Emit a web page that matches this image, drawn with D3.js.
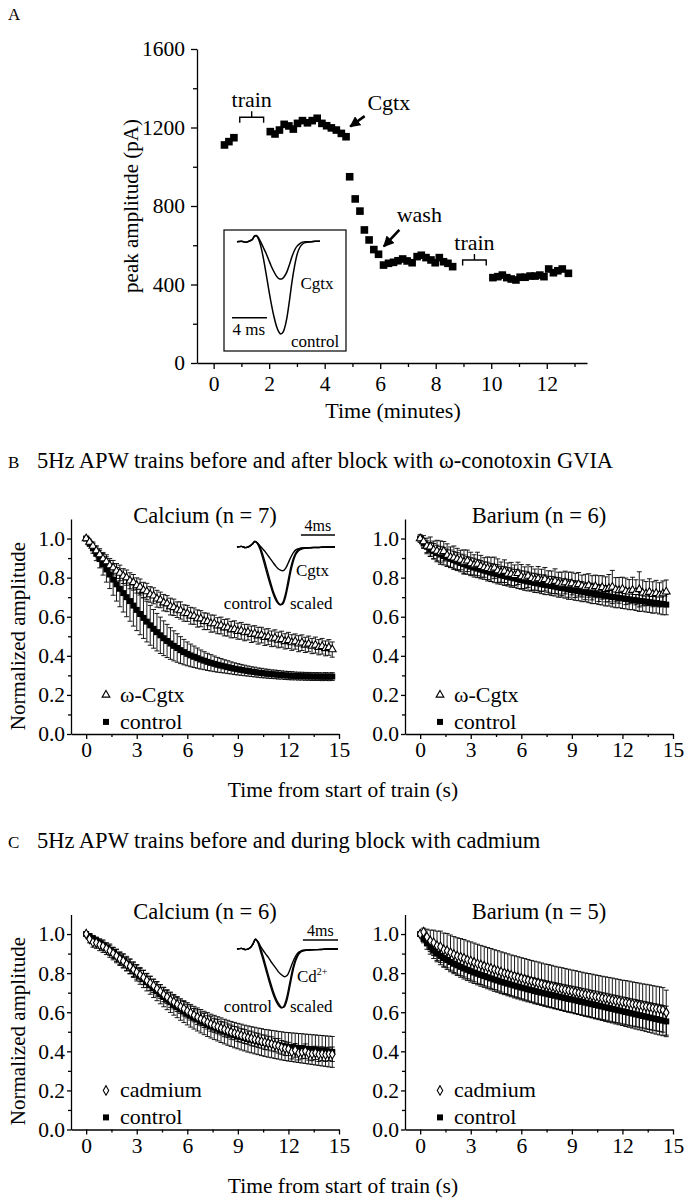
<!DOCTYPE html>
<html><head><meta charset="utf-8">
<script src="https://cdn.jsdelivr.net/npm/d3@7"></script>
<style>
body{margin:0;background:#fff}
svg{display:block}
text{font-family:"Liberation Serif","Times New Roman",serif;fill:#000}
</style></head><body>
<svg id="fig" width="684" height="1200"></svg>
<script>
// ---------- Panel A data ----------
const timeA = [0.39,0.55,0.73,2.04,2.21,2.37,2.54,2.71,2.87,3.02,3.20,3.38,3.55,3.73,3.90,4.07,4.24,4.42,4.60,4.77,4.90,5.10,5.27,5.43,5.60,5.77,5.94,6.12,6.30,6.48,6.64,6.81,6.97,7.15,7.33,7.48,7.65,7.83,7.98,8.13,8.28,8.44,8.61,10.06,10.24,10.40,10.56,10.72,10.89,11.04,11.22,11.40,11.58,11.75,11.90,12.07,12.24,12.40,12.56,12.78];
const ampA = [1111,1128,1148,1179,1167,1187,1216,1208,1192,1221,1235,1224,1235,1247,1221,1209,1198,1187,1170,1153,949,836,774,678,627,578,554,499,508,513,521,530,520,511,542,549,537,525,511,537,516,508,491,435,440,448,435,428,423,437,437,443,443,448,440,479,460,470,479,457];
const ticksAx = [0,2,4,6,8,10,12];
const ticksAy = [0,400,800,1200,1600];

// inset A traces (ms, normalized current)
const traceTimeA = [0,0.5,1,1.5,1.8,2.0,2.2,2.4,2.7,3.0,3.3,3.6,3.9,4.2,4.5,4.8,5.0,5.2,5.4,5.7,6.0,6.3,6.6,6.9,7.2,7.5,7.8,8.1,8.5,9.0,9.5];
const traceCtrlA = [0,0.005,-0.005,0.01,0.03,0.06,0.068,0.04,-0.04,-0.17,-0.33,-0.50,-0.66,-0.80,-0.91,-0.98,-1.0,-0.99,-0.95,-0.83,-0.64,-0.43,-0.26,-0.13,-0.06,-0.025,-0.01,-0.005,0,0.005,0.005];
const traceCgtxA = [0,0.005,-0.005,0.01,0.03,0.06,0.068,0.05,0.0,-0.06,-0.12,-0.19,-0.26,-0.32,-0.37,-0.40,-0.405,-0.40,-0.38,-0.33,-0.25,-0.16,-0.09,-0.045,-0.02,-0.005,0,0,0,0.005,0.005];

// ---------- Panels B / C data (5 Hz train, one value every 0.2 s) ----------
const trainStep = 0.2;
const ticksBCx = [0,3,6,9,12,15];
const ticksBCy = [0,0.2,0.4,0.6,0.8,1.0];

const caCtrlB = [1.000,0.975,0.950,0.922,0.895,0.868,0.842,0.816,0.790,0.766,0.743,0.721,0.700,0.680,0.657,0.635,0.614,0.594,0.575,0.556,0.538,0.521,0.505,0.490,0.476,0.463,0.451,0.440,0.429,0.419,0.410,0.402,0.395,0.388,0.381,0.375,0.369,0.364,0.359,0.354,0.350,0.346,0.342,0.338,0.334,0.331,0.328,0.325,0.322,0.319,0.317,0.314,0.312,0.310,0.308,0.306,0.305,0.303,0.302,0.300,0.299,0.298,0.297,0.296,0.296,0.295,0.295,0.294,0.294,0.294,0.293,0.294,0.293,0.294];
const caCtrlBErr = [0.005,0.015,0.025,0.035,0.045,0.055,0.065,0.072,0.080,0.086,0.092,0.097,0.100,0.103,0.105,0.106,0.106,0.105,0.104,0.102,0.099,0.096,0.093,0.089,0.085,0.081,0.077,0.073,0.069,0.065,0.061,0.058,0.055,0.052,0.049,0.046,0.044,0.042,0.040,0.038,0.036,0.034,0.033,0.031,0.030,0.029,0.028,0.027,0.026,0.025,0.025,0.024,0.024,0.023,0.023,0.022,0.022,0.022,0.021,0.021,0.021,0.021,0.020,0.020,0.020,0.020,0.020,0.020,0.020,0.020,0.020,0.020,0.020,0.020];
const caCgtxB = [1.000,0.982,0.962,0.938,0.918,0.897,0.882,0.862,0.851,0.834,0.824,0.808,0.800,0.784,0.776,0.760,0.752,0.736,0.729,0.714,0.707,0.692,0.686,0.672,0.667,0.652,0.648,0.636,0.632,0.619,0.617,0.605,0.603,0.591,0.590,0.577,0.576,0.565,0.565,0.554,0.555,0.544,0.545,0.534,0.536,0.526,0.528,0.519,0.521,0.510,0.513,0.503,0.506,0.495,0.498,0.487,0.491,0.481,0.485,0.474,0.479,0.468,0.473,0.462,0.467,0.456,0.461,0.450,0.455,0.444,0.449,0.438,0.443,0.432];
const caCgtxBErr = [0.008,0.015,0.020,0.025,0.030,0.032,0.035,0.036,0.037,0.038,0.040,0.038,0.039,0.041,0.040,0.039,0.041,0.040,0.042,0.040,0.041,0.043,0.040,0.042,0.041,0.043,0.042,0.040,0.044,0.042,0.041,0.043,0.042,0.044,0.041,0.043,0.042,0.044,0.043,0.041,0.043,0.042,0.044,0.042,0.043,0.041,0.043,0.042,0.040,0.042,0.041,0.043,0.040,0.042,0.041,0.040,0.042,0.040,0.041,0.039,0.041,0.040,0.039,0.041,0.040,0.039,0.040,0.039,0.041,0.039,0.040,0.038,0.040,0.039];
const baCtrlB = [1.000,0.975,0.958,0.945,0.935,0.926,0.918,0.910,0.903,0.896,0.889,0.882,0.875,0.869,0.862,0.856,0.851,0.846,0.841,0.836,0.831,0.826,0.821,0.817,0.812,0.808,0.804,0.800,0.796,0.792,0.788,0.784,0.780,0.777,0.773,0.770,0.766,0.763,0.760,0.757,0.754,0.750,0.747,0.744,0.740,0.737,0.734,0.731,0.728,0.725,0.722,0.719,0.716,0.713,0.710,0.707,0.704,0.701,0.699,0.696,0.694,0.691,0.689,0.686,0.684,0.681,0.679,0.677,0.674,0.672,0.670,0.667,0.665,0.662];
const baCtrlBErr = [0.010,0.025,0.030,0.035,0.040,0.040,0.042,0.045,0.043,0.045,0.044,0.046,0.045,0.047,0.045,0.046,0.048,0.046,0.047,0.045,0.048,0.046,0.047,0.049,0.046,0.048,0.047,0.049,0.046,0.048,0.047,0.049,0.048,0.046,0.049,0.047,0.048,0.050,0.047,0.049,0.048,0.050,0.047,0.049,0.051,0.048,0.050,0.049,0.051,0.048,0.050,0.052,0.049,0.051,0.050,0.052,0.049,0.051,0.053,0.050,0.052,0.051,0.053,0.050,0.052,0.054,0.051,0.053,0.052,0.054,0.051,0.053,0.055,0.052];
const baCgtxB = [1.000,0.985,0.962,0.958,0.942,0.936,0.928,0.935,0.915,0.905,0.902,0.895,0.890,0.880,0.886,0.872,0.865,0.870,0.858,0.852,0.848,0.842,0.850,0.836,0.828,0.833,0.820,0.818,0.812,0.822,0.805,0.800,0.808,0.796,0.790,0.795,0.786,0.792,0.780,0.776,0.782,0.772,0.768,0.775,0.764,0.770,0.760,0.766,0.757,0.752,0.760,0.748,0.755,0.744,0.750,0.740,0.746,0.752,0.738,0.735,0.742,0.730,0.728,0.736,0.725,0.740,0.722,0.718,0.726,0.715,0.720,0.712,0.718,0.728];
const baCgtxBErr = [0.020,0.030,0.040,0.050,0.045,0.055,0.060,0.050,0.058,0.052,0.060,0.055,0.050,0.062,0.055,0.058,0.052,0.060,0.056,0.050,0.058,0.062,0.055,0.060,0.052,0.058,0.055,0.060,0.053,0.057,0.062,0.055,0.058,0.060,0.054,0.062,0.057,0.060,0.055,0.058,0.063,0.056,0.060,0.058,0.064,0.058,0.062,0.060,0.056,0.065,0.060,0.062,0.058,0.066,0.060,0.064,0.070,0.085,0.062,0.066,0.060,0.068,0.062,0.066,0.064,0.090,0.066,0.062,0.068,0.064,0.066,0.062,0.065,0.060];

const caCtrlC = [1.000,0.990,0.978,0.966,0.954,0.942,0.930,0.917,0.904,0.890,0.877,0.864,0.850,0.834,0.818,0.802,0.786,0.770,0.754,0.738,0.722,0.707,0.692,0.678,0.664,0.651,0.638,0.626,0.614,0.603,0.592,0.582,0.572,0.563,0.554,0.545,0.537,0.529,0.522,0.515,0.508,0.501,0.495,0.489,0.483,0.478,0.473,0.468,0.463,0.459,0.455,0.451,0.447,0.443,0.440,0.437,0.434,0.431,0.428,0.425,0.423,0.421,0.419,0.417,0.415,0.413,0.411,0.409,0.407,0.405,0.403,0.401,0.399,0.397];
const caCtrlCErr = [0.005,0.010,0.015,0.018,0.020,0.022,0.024,0.026,0.028,0.030,0.032,0.034,0.036,0.038,0.040,0.042,0.043,0.044,0.045,0.046,0.047,0.048,0.049,0.050,0.051,0.052,0.053,0.054,0.055,0.056,0.057,0.058,0.058,0.059,0.060,0.060,0.061,0.061,0.062,0.062,0.063,0.063,0.064,0.064,0.065,0.065,0.066,0.066,0.067,0.067,0.068,0.068,0.069,0.069,0.070,0.070,0.071,0.071,0.072,0.072,0.073,0.073,0.074,0.074,0.075,0.075,0.076,0.076,0.077,0.077,0.078,0.078,0.079,0.079];
const caCdC = [1.000,0.975,0.958,0.955,0.945,0.938,0.925,0.915,0.900,0.888,0.872,0.862,0.845,0.835,0.818,0.805,0.790,0.778,0.762,0.748,0.735,0.720,0.706,0.690,0.678,0.662,0.652,0.640,0.628,0.618,0.606,0.596,0.585,0.575,0.566,0.558,0.548,0.540,0.532,0.526,0.518,0.512,0.505,0.498,0.493,0.487,0.481,0.476,0.470,0.466,0.460,0.456,0.450,0.446,0.442,0.438,0.432,0.428,0.420,0.415,0.412,0.398,0.405,0.392,0.396,0.401,0.390,0.388,0.392,0.385,0.388,0.384,0.387,0.385];
const caCdCErr = [0.008,0.020,0.025,0.028,0.030,0.032,0.030,0.034,0.032,0.035,0.033,0.036,0.034,0.037,0.035,0.036,0.034,0.037,0.035,0.036,0.034,0.037,0.035,0.036,0.034,0.037,0.035,0.036,0.034,0.037,0.035,0.036,0.034,0.037,0.035,0.036,0.034,0.037,0.035,0.036,0.034,0.037,0.035,0.036,0.034,0.037,0.035,0.036,0.034,0.037,0.035,0.036,0.034,0.037,0.035,0.036,0.034,0.037,0.035,0.036,0.034,0.037,0.035,0.036,0.034,0.037,0.035,0.036,0.034,0.037,0.035,0.036,0.034,0.037];
const baCtrlC = [1.000,0.975,0.952,0.932,0.915,0.900,0.888,0.877,0.867,0.857,0.848,0.840,0.832,0.824,0.817,0.810,0.803,0.797,0.791,0.785,0.779,0.773,0.767,0.762,0.756,0.751,0.746,0.741,0.736,0.731,0.726,0.722,0.717,0.713,0.708,0.704,0.700,0.696,0.692,0.688,0.684,0.680,0.676,0.672,0.668,0.665,0.661,0.657,0.653,0.649,0.645,0.641,0.637,0.633,0.629,0.625,0.621,0.617,0.613,0.609,0.605,0.601,0.597,0.593,0.589,0.585,0.581,0.577,0.573,0.569,0.565,0.561,0.557,0.553];
const baCtrlCErr = [0.010,0.020,0.030,0.035,0.040,0.042,0.045,0.047,0.048,0.050,0.051,0.052,0.053,0.054,0.055,0.056,0.056,0.057,0.058,0.058,0.059,0.059,0.060,0.060,0.061,0.061,0.062,0.062,0.063,0.063,0.063,0.064,0.064,0.064,0.065,0.065,0.065,0.066,0.066,0.066,0.067,0.067,0.067,0.068,0.068,0.068,0.069,0.069,0.069,0.070,0.070,0.070,0.071,0.071,0.071,0.072,0.072,0.072,0.073,0.073,0.073,0.074,0.074,0.074,0.075,0.075,0.075,0.076,0.076,0.076,0.077,0.077,0.077,0.078];
const baCdC = [1.000,1.010,0.985,0.965,0.955,0.940,0.935,0.920,0.915,0.905,0.895,0.888,0.882,0.876,0.868,0.862,0.855,0.848,0.842,0.836,0.830,0.824,0.818,0.812,0.806,0.800,0.795,0.789,0.784,0.779,0.774,0.769,0.764,0.759,0.754,0.750,0.745,0.740,0.736,0.732,0.727,0.723,0.719,0.715,0.711,0.707,0.703,0.699,0.695,0.691,0.688,0.684,0.680,0.677,0.673,0.670,0.666,0.663,0.659,0.656,0.652,0.649,0.646,0.642,0.639,0.636,0.632,0.629,0.626,0.622,0.619,0.616,0.612,0.598];
const baCdCErr = [0.010,0.020,0.040,0.055,0.065,0.075,0.080,0.085,0.088,0.090,0.092,0.093,0.095,0.096,0.097,0.098,0.099,0.100,0.100,0.101,0.101,0.102,0.102,0.103,0.103,0.104,0.104,0.104,0.105,0.105,0.105,0.106,0.106,0.106,0.107,0.107,0.107,0.107,0.108,0.108,0.108,0.108,0.109,0.109,0.109,0.109,0.110,0.110,0.110,0.110,0.110,0.111,0.111,0.111,0.111,0.111,0.112,0.112,0.112,0.112,0.112,0.113,0.113,0.113,0.113,0.113,0.113,0.114,0.114,0.114,0.114,0.114,0.114,0.115];

// inset traces B and C (ms, normalized current)
const traceTimeBC = [0,0.5,1,1.5,1.8,2.1,2.4,2.7,3.0,3.3,3.6,3.9,4.2,4.5,4.8,5.1,5.4,5.7,6.0,6.3,6.6,6.9,7.2,7.5,8.0,8.5,9.0,9.5,10.0,10.5,11.0,11.5];
const traceCtrlB = [0,0.01,-0.01,0.015,0.05,0.10,0.06,-0.04,-0.18,-0.34,-0.50,-0.65,-0.79,-0.90,-0.97,-1.0,-0.95,-0.80,-0.58,-0.36,-0.20,-0.10,-0.05,-0.03,-0.02,-0.015,-0.01,-0.01,-0.005,0,0,0];
const traceScaledB = [0,0.01,-0.01,0.015,0.05,0.095,0.07,0.0,-0.12,-0.27,-0.43,-0.59,-0.74,-0.86,-0.95,-0.99,-0.98,-0.86,-0.66,-0.43,-0.25,-0.13,-0.07,-0.04,-0.02,-0.015,-0.01,-0.01,-0.005,0,0,0];
const traceCgtxB = [0,0.01,-0.01,0.015,0.05,0.095,0.07,0.02,-0.03,-0.08,-0.14,-0.20,-0.26,-0.32,-0.37,-0.40,-0.41,-0.37,-0.28,-0.18,-0.10,-0.05,-0.03,-0.015,-0.01,-0.01,-0.005,-0.005,0,0,0,0];
const traceCtrlC = [0,0.01,-0.01,0.02,0.08,0.17,0.10,-0.05,-0.20,-0.36,-0.52,-0.67,-0.80,-0.90,-0.97,-1.0,-0.95,-0.80,-0.58,-0.36,-0.20,-0.10,-0.05,-0.03,-0.02,-0.015,-0.01,-0.01,-0.005,0,0,0];
const traceScaledC = [0,0.01,-0.01,0.02,0.08,0.16,0.12,0.0,-0.14,-0.30,-0.46,-0.61,-0.75,-0.86,-0.94,-0.99,-0.98,-0.86,-0.65,-0.42,-0.24,-0.12,-0.06,-0.03,-0.02,-0.015,-0.01,-0.01,-0.005,0,0,0];
const traceCdC = [0,0.01,-0.01,0.02,0.08,0.16,0.12,0.04,-0.03,-0.09,-0.15,-0.22,-0.28,-0.34,-0.40,-0.44,-0.47,-0.45,-0.36,-0.24,-0.14,-0.07,-0.04,-0.02,-0.015,-0.01,-0.01,-0.005,0,0,0,0];

// ---------- drawing ----------
const svg = d3.select("#fig");
const defs = svg.append("defs");
defs.append("marker").attr("id","arrow").attr("viewBox","0 0 10 10")
  .attr("refX",9).attr("refY",5).attr("markerWidth",4.2).attr("markerHeight",4.2)
  .attr("orient","auto").append("path").attr("d","M0,0L10,5L0,10z").attr("fill","#000");

function styleAxis(g, fs){
  g.attr("font-family",null).attr("font-size",null);
  g.selectAll("path,line").attr("stroke","#000").attr("stroke-width",1.3);
  g.selectAll("text").style("font-size",fs+"px").style("font-family","'Liberation Serif',serif").attr("fill","#000");
}

// ===== Panel A =====
const xA = d3.scaleLinear().domain([-0.6, 13.45]).range([197, 587]);
const yA = d3.scaleLinear().domain([0, 1600]).range([363, 49]);
svg.append("text").attr("x",8).attr("y",20).style("font-size","17px").text("A");

const gAx = svg.append("g").attr("transform","translate(0,363)")
  .call(d3.axisBottom(xA).tickValues(ticksAx).tickSize(6).tickSizeOuter(0).tickPadding(7).tickFormat(d3.format("d")));
styleAxis(gAx,21.5);
const gAxm = svg.append("g").attr("transform","translate(0,363)")
  .call(d3.axisBottom(xA).tickValues(d3.range(1,14,2)).tickSize(4).tickSizeOuter(0).tickFormat(""));
gAxm.select(".domain").remove(); styleAxis(gAxm,21);
const gAy = svg.append("g").attr("transform","translate(197,0)")
  .call(d3.axisLeft(yA).tickValues(ticksAy).tickSize(6).tickSizeOuter(0).tickPadding(6).tickFormat(d3.format("d")));
styleAxis(gAy,21.5);
const gAym = svg.append("g").attr("transform","translate(197,0)")
  .call(d3.axisLeft(yA).tickValues([200,600,1000,1400]).tickSize(4).tickSizeOuter(0).tickFormat(""));
gAym.select(".domain").remove(); styleAxis(gAym,21);

svg.append("text").attr("x",393).attr("y",418).attr("text-anchor","middle").style("font-size","22px").text("Time (minutes)");
svg.append("text").attr("transform","translate(138,206) rotate(-90)").attr("text-anchor","middle").style("font-size","21px").text("peak amplitude (pA)");

svg.append("g").selectAll("rect").data(timeA.map((t,i)=>[t,ampA[i]])).join("rect")
  .attr("x",d=>xA(d[0])-3.8).attr("y",d=>yA(d[1])-3.8).attr("width",7.6).attr("height",7.6).attr("fill","#000");

// train brackets
const trainBrackets = [[0.94,1.80,1252],[8.97,9.82,525]];
trainBrackets.forEach(b=>{
  const x0=xA(b[0]), x1=xA(b[1]), y=yA(b[2]), xm=(x0+x1)/2;
  svg.append("path").attr("d",`M${x0},${y+5.5}V${y}H${x1}V${y+5.5}M${xm},${y}V${y-6}`)
    .attr("fill","none").attr("stroke","#000").attr("stroke-width",1.4);
  svg.append("text").attr("x",xm).attr("y",y-10).attr("text-anchor","middle").style("font-size","22px").text("train");
});
// arrows
const arrowsA = [{from:[5.44,1258],to:[4.92,1205],label:"Cgtx",lx:5.54,ly:1289,anchor:"start"},
                 {from:[6.69,678],to:[6.13,594],label:"wash",lx:7.41,ly:718,anchor:"middle"}];
arrowsA.forEach(a=>{
  svg.append("line").attr("x1",xA(a.from[0])).attr("y1",yA(a.from[1])).attr("x2",xA(a.to[0])).attr("y2",yA(a.to[1]))
    .attr("stroke","#000").attr("stroke-width",2.6).attr("marker-end","url(#arrow)");
  svg.append("text").attr("x",xA(a.lx)).attr("y",yA(a.ly)).attr("text-anchor",a.anchor).style("font-size","22px").text(a.label);
});

// inset A
svg.append("rect").attr("x",224).attr("y",230).attr("width",122).attr("height",121).attr("fill","#fff").attr("stroke","#000").attr("stroke-width",1.2);
const ixA = d3.scaleLinear().domain([0,9.5]).range([237,320]);
const iyA = d3.scaleLinear().domain([-1,0]).range([334,241.7]);
const lineA = d3.line().x((d,i)=>ixA(traceTimeA[i])).y(d=>iyA(d)).curve(d3.curveMonotoneX);
[traceCtrlA, traceCgtxA].forEach(tr=>svg.append("path").attr("d",lineA(tr)).attr("fill","none").attr("stroke","#000").attr("stroke-width",1.5));
svg.append("line").attr("x1",ixA(0)-5).attr("x2",ixA(4)-5).attr("y1",317.7).attr("y2",317.7).attr("stroke","#000").attr("stroke-width",1.5);
svg.append("text").attr("x",232.5).attr("y",335).style("font-size","17px").text("4 ms");
svg.append("text").attr("x",300.5).attr("y",288.5).style("font-size","17px").text("Cgtx");
svg.append("text").attr("x",291).attr("y",347).style("font-size","17px").text("control");

// ===== Panels B & C =====
const tTrain = caCtrlB.map((v,i)=>i*trainStep);

function drawPanel(cfg){
  const x = d3.scaleLinear().domain([-0.9,15]).range([cfg.ax, cfg.ax+268]);
  const y = d3.scaleLinear().domain([0,1.1]).range([cfg.ay, cfg.ay-215]);
  const gx = svg.append("g").attr("transform",`translate(0,${cfg.ay})`)
    .call(d3.axisBottom(x).tickValues(ticksBCx).tickSize(5).tickSizeOuter(0).tickPadding(3));
  styleAxis(gx,21.5);
  const gxm = svg.append("g").attr("transform",`translate(0,${cfg.ay})`)
    .call(d3.axisBottom(x).tickValues([1.5,4.5,7.5,10.5,13.5]).tickSize(3).tickSizeOuter(0).tickFormat(""));
  gxm.select(".domain").remove(); styleAxis(gxm,20);
  const gy = svg.append("g").attr("transform",`translate(${cfg.ax},0)`)
    .call(d3.axisLeft(y).tickValues(ticksBCy).tickSize(4).tickSizeOuter(0).tickPadding(2).tickFormat(d3.format(".1f")));
  styleAxis(gy,21.5);
  const gym = svg.append("g").attr("transform",`translate(${cfg.ax},0)`)
    .call(d3.axisLeft(y).tickValues([0.1,0.3,0.5,0.7,0.9]).tickSize(3).tickSizeOuter(0).tickFormat(""));
  gym.select(".domain").remove(); styleAxis(gym,20);

  svg.append("text").attr("x",cfg.ax+134).attr("y",cfg.ay-211).attr("text-anchor","middle").style("font-size","22.5px").text(cfg.title);

  function errBars(vals, errs){
    const g = svg.append("g").attr("stroke","#000").attr("stroke-width",0.9);
    vals.forEach((v,i)=>{
      const cx = x(tTrain[i]), y0 = y(v-errs[i]), y1 = y(v+errs[i]);
      g.append("path").attr("d",`M${cx},${y0}V${y1}M${cx-2.5},${y0}H${cx+2.5}M${cx-2.5},${y1}H${cx+2.5}`).attr("fill","none");
    });
  }
  errBars(cfg.ctrl, cfg.ctrlErr);
  errBars(cfg.drug, cfg.drugErr);
  svg.append("g").selectAll("rect").data(cfg.ctrl).join("rect")
    .attr("x",(d,i)=>x(tTrain[i])-3).attr("y",d=>y(d)-3).attr("width",6).attr("height",6).attr("fill","#000");
  const sym = d3.symbol().type(cfg.shape).size(26);
  svg.append("g").selectAll("path").data(cfg.drug).join("path")
    .attr("transform",(d,i)=>`translate(${x(tTrain[i])},${y(d)})`).attr("d",sym())
    .attr("fill","#fff").attr("stroke","#000").attr("stroke-width",1.1);

  // legend
  const lx = cfg.ax+35;
  svg.append("path").attr("transform",`translate(${lx},${y(0.2)})`).attr("d",sym()).attr("fill","#fff").attr("stroke","#000").attr("stroke-width",1.1);
  svg.append("text").attr("x",lx+14).attr("y",y(0.2)+7).style("font-size","22px").text(cfg.drugLabel);
  svg.append("rect").attr("x",lx-3).attr("y",y(0.2)+24).attr("width",6).attr("height",6).attr("fill","#000");
  svg.append("text").attr("x",lx+14).attr("y",y(0.2)+34).style("font-size","22px").text("control");
  return {x,y};
}

function drawTraceInset(c){
  const ix = d3.scaleLinear().domain([0,11.5]).range([237,c.xEnd]);
  const iy = d3.scaleLinear().domain([-1,0]).range([c.trough,c.base]);
  const ln = d3.line().x((d,i)=>ix(traceTimeBC[i])).y(d=>iy(d)).curve(d3.curveMonotoneX);
  c.traces.forEach(tr=>svg.append("path").attr("d",ln(tr)).attr("fill","none").attr("stroke","#000").attr("stroke-width",1.4));
  svg.append("line").attr("x1",ix(11.5)-ix(4)+237).attr("x2",ix(11.5)).attr("y1",c.bar).attr("y2",c.bar).attr("stroke","#000").attr("stroke-width",1.5);
  svg.append("text").attr("x",(ix(11.5)*2-ix(4)+237)/2).attr("y",c.bar-4).attr("text-anchor","middle").style("font-size","16px").text("4ms");
  const dl = svg.append("text").attr("x",c.drugX).attr("y",c.drugY).style("font-size","17px").text(c.drugLabel);
  if(c.sup) dl.append("tspan").attr("dy",-7).style("font-size","10px").text(c.sup);
  svg.append("text").attr("x",272).attr("y",c.trough+4).attr("text-anchor","end").style("font-size","17px").text("control");
  svg.append("text").attr("x",290).attr("y",c.trough+4).style("font-size","17px").text("scaled");
}

function header(letter, txt, y){
  svg.append("text").attr("x",8).attr("y",y).style("font-size","17px").text(letter);
  svg.append("text").attr("x",37).attr("y",y).style("font-size","22.5px").text(txt);
}
function yLabel(cy){
  svg.append("text").attr("transform",`translate(25,${cy}) rotate(-90)`).attr("text-anchor","middle").style("font-size","21px").text("Normalized amplitude");
}
function xLabel(y){
  svg.append("text").attr("x",343).attr("y",y).attr("text-anchor","middle").style("font-size","21.5px").text("Time from start of train (s)");
}

// B
header("B","5Hz APW trains before and after block with ω-conotoxin GVIA",468);
drawPanel({ax:71, ay:734, title:"Calcium (n = 7)", ctrl:caCtrlB, ctrlErr:caCtrlBErr, drug:caCgtxB, drugErr:caCgtxBErr, shape:d3.symbolTriangle, drugLabel:"ω-Cgtx"});
drawPanel({ax:405, ay:734, title:"Barium (n = 6)", ctrl:baCtrlB, ctrlErr:baCtrlBErr, drug:baCgtxB, drugErr:baCgtxBErr, shape:d3.symbolTriangle, drugLabel:"ω-Cgtx"});
drawTraceInset({xEnd:335, base:547, trough:605, bar:535, traces:[traceCtrlB,traceScaledB,traceCgtxB], drugLabel:"Cgtx", drugX:296, drugY:576});
yLabel(636); xLabel(797);

// C
header("C","5Hz APW trains before and during block with cadmium",848);
drawPanel({ax:71, ay:1129.5, title:"Calcium (n = 6)", ctrl:caCtrlC, ctrlErr:caCtrlCErr, drug:caCdC, drugErr:caCdCErr, shape:d3.symbolDiamond, drugLabel:"cadmium"});
drawPanel({ax:405, ay:1129.5, title:"Barium (n = 5)", ctrl:baCtrlC, ctrlErr:baCtrlCErr, drug:baCdC, drugErr:baCdCErr, shape:d3.symbolDiamond, drugLabel:"cadmium"});
drawTraceInset({xEnd:338, base:949, trough:1008, bar:940, traces:[traceCtrlC,traceScaledC,traceCdC], drugLabel:"Cd", sup:"2+", drugX:297, drugY:982});
yLabel(1031); xLabel(1193);
</script></body></html>
